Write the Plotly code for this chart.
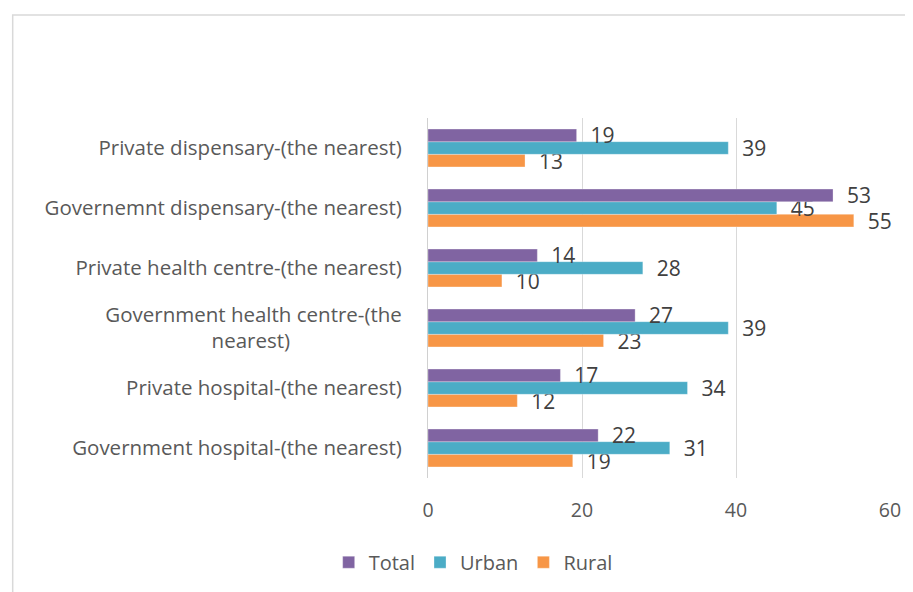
import plotly.graph_objects as go

# Catégories (de haut en bas dans le graphique)
# Deuxième ligne centrée sous la première à l'aide d'espaces insécables
categories = [
    "Private dispensary-(the nearest)",
    "Governemnt dispensary-(the nearest)",
    "Private health centre-(the nearest)",
    "Government health centre-(the<br>nearest)" + "\u00a0" * 21,
    "Private hospital-(the nearest)",
    "Government hospital-(the nearest)",
]

total = [19.3, 52.6, 14.2, 26.9, 17.2, 22.1]
urban = [39.0, 45.3, 27.9, 39.0, 33.7, 31.4]
rural = [12.6, 55.3, 9.6, 22.8, 11.6, 18.8]

x_ticks = [0, 20, 40, 60]

series = [
    ("Total", total, "#8064A2"),
    ("Urban", urban, "#4BACC6"),
    ("Rural", rural, "#F79646"),
]

font_family = "Open Sans, DejaVu Sans, sans-serif"
text_color = "#595959"

# La page HTML ajoute une marge de 8 px autour de la figure
W, H = 905, 584
plot_l, plot_r, plot_t, plot_b = 420, 885, 110, 470

fig = go.Figure()

# Ordre inversé : Plotly dessine la première trace en bas du groupe
for name, values, color in reversed(series):
    fig.add_trace(go.Bar(
        y=categories,
        x=values,
        name=name,
        orientation="h",
        marker=dict(color=color, line=dict(color="rgba(255,255,255,0.6)", width=0.5)),
        texttemplate="  %{x:.0f}",
        textposition="outside",
        constraintext="none",
        cliponaxis=False,
        textfont=dict(size=21, color="#404040", family=font_family),
    ))

fig.update_layout(
    width=W,
    height=H,
    barmode="group",
    bargap=0.37,
    bargroupgap=0,
    plot_bgcolor="white",
    paper_bgcolor="white",
    font=dict(family=font_family, color=text_color, size=20),
    margin=dict(l=plot_l, r=W - plot_r, t=plot_t, b=H - plot_b),
    yaxis=dict(
        categoryorder="array",
        categoryarray=list(reversed(categories)),
        showline=True,
        linecolor="#d0d0d0",
        linewidth=1,
        ticks="",
        ticklabelstandoff=21,
        tickfont=dict(size=20.5, color=text_color),
    ),
    xaxis=dict(
        range=[0, 60],
        tickvals=x_ticks,
        showgrid=True,
        gridcolor="#d9d9d9",
        gridwidth=1,
        zeroline=False,
        ticks="",
        ticklabelstandoff=18,
        tickfont=dict(size=19.5, color=text_color),
    ),
    legend=dict(
        orientation="h",
        traceorder="reversed",
        xref="container",
        x=0.514,
        xanchor="center",
        yref="container",
        y=0.051,
        yanchor="middle",
        font=dict(size=20, color=text_color),
        itemwidth=30,
    ),
    showlegend=True,
)

# Cadre gris clair autour du graphique
plot_w = plot_r - plot_l
plot_h = plot_b - plot_t
fig.add_shape(
    type="rect",
    xref="paper", yref="paper",
    x0=(2 - plot_l) / plot_w, x1=1.1,
    y0=-0.4, y1=(plot_b - 7) / plot_h,
    line=dict(color="#d9d9d9", width=1.5),
    layer="below",
)

fig.write_html("out.html")
